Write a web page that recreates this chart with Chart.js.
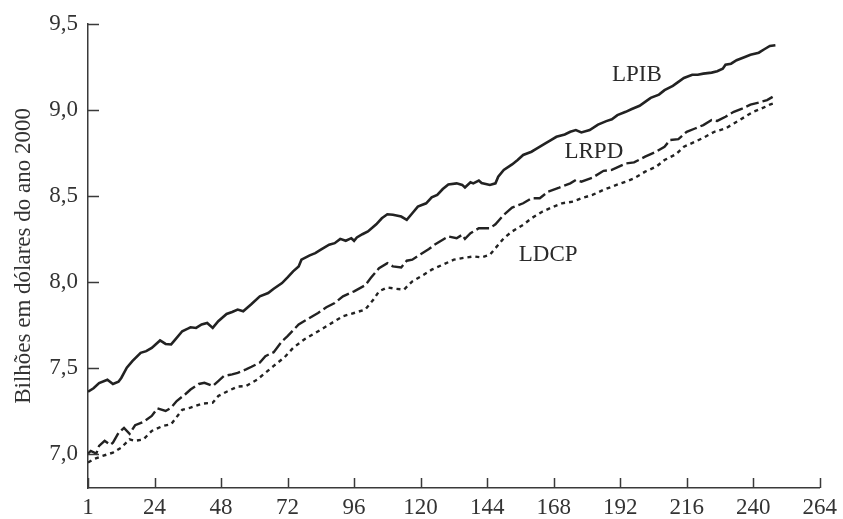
<!DOCTYPE html>
<html>
<head>
<meta charset="utf-8">
<script src="https://cdn.jsdelivr.net/npm/chart.js@4"></script>
<style>
  html, body { margin: 0; padding: 0; background: #fff; }
  #wrap { width: 843px; height: 519px; }
</style>
</head>
<body>
<div id="wrap"><canvas id="chart"></canvas></div>
<script>
// quarters (x) and log values
const lpibQ = [0, 2, 4, 7, 9, 11, 12, 14, 16, 19, 21, 23, 26, 28, 30, 31, 34, 36, 37, 39, 41, 43, 45, 47, 50, 52, 54, 56, 59, 62, 65, 67, 70, 72, 74, 76, 77, 80, 82, 84, 87, 89, 91, 93, 95, 96, 97, 99, 101, 104, 106, 108, 110, 113, 115, 117, 119, 122, 124, 126, 128, 130, 133, 135, 136, 138, 139, 141, 142, 145, 147, 148, 150, 153, 155, 157, 160, 162, 165, 167, 169, 172, 174, 176, 178, 181, 184, 187, 189, 191, 194, 196, 199, 201, 203, 206, 208, 211, 213, 215, 218, 220, 222, 225, 227, 229, 230, 232, 234, 237, 239, 242, 244, 246, 248]
const lpibV = [7.36, 7.38, 7.41, 7.43, 7.405, 7.418, 7.44, 7.5, 7.538, 7.586, 7.596, 7.615, 7.658, 7.638, 7.635, 7.654, 7.712, 7.727, 7.735, 7.731, 7.751, 7.76, 7.731, 7.77, 7.812, 7.824, 7.838, 7.828, 7.87, 7.915, 7.934, 7.959, 7.992, 8.025, 8.06, 8.089, 8.128, 8.153, 8.166, 8.186, 8.215, 8.224, 8.249, 8.238, 8.253, 8.238, 8.257, 8.276, 8.292, 8.334, 8.369, 8.392, 8.389, 8.379, 8.36, 8.398, 8.437, 8.456, 8.49, 8.505, 8.539, 8.566, 8.572, 8.563, 8.548, 8.578, 8.572, 8.588, 8.574, 8.563, 8.572, 8.611, 8.65, 8.682, 8.708, 8.737, 8.756, 8.775, 8.804, 8.824, 8.843, 8.856, 8.872, 8.882, 8.868, 8.882, 8.914, 8.934, 8.945, 8.969, 8.988, 9.003, 9.023, 9.046, 9.069, 9.088, 9.114, 9.139, 9.162, 9.185, 9.204, 9.204, 9.21, 9.216, 9.224, 9.239, 9.262, 9.268, 9.288, 9.307, 9.32, 9.332, 9.352, 9.371, 9.375]

const lrpdQ = [0, 1, 3, 4, 6, 8, 9, 11, 13, 15, 17, 20, 23, 25, 28, 30, 32, 35, 37, 40, 42, 45, 47, 49, 52, 54, 57, 59, 62, 64, 67, 70, 72, 76, 79, 83, 86, 89, 92, 96, 100, 102, 105, 108, 110, 113, 115, 117, 120, 123, 125, 128, 130, 133, 135, 136, 138, 141, 145, 147, 150, 153, 157, 160, 163, 166, 170, 174, 176, 178, 182, 186, 189, 194, 197, 201, 205, 208, 210, 213, 216, 219, 222, 225, 227, 230, 233, 236, 239, 242, 245, 247]
const lrpdV = [7.0, 7.016, 7.0, 7.045, 7.074, 7.051, 7.064, 7.12, 7.15, 7.115, 7.165, 7.185, 7.219, 7.263, 7.248, 7.267, 7.306, 7.344, 7.373, 7.405, 7.412, 7.393, 7.422, 7.451, 7.461, 7.47, 7.49, 7.505, 7.53, 7.567, 7.59, 7.654, 7.683, 7.751, 7.78, 7.818, 7.851, 7.876, 7.915, 7.944, 7.979, 8.021, 8.079, 8.108, 8.089, 8.083, 8.122, 8.128, 8.16, 8.19, 8.215, 8.244, 8.263, 8.253, 8.273, 8.249, 8.282, 8.311, 8.311, 8.334, 8.389, 8.431, 8.456, 8.485, 8.485, 8.524, 8.547, 8.572, 8.592, 8.582, 8.605, 8.645, 8.65, 8.688, 8.694, 8.727, 8.756, 8.785, 8.824, 8.829, 8.872, 8.891, 8.911, 8.94, 8.935, 8.959, 8.988, 9.007, 9.03, 9.042, 9.056, 9.075]

const ldcpQ = [0, 2, 5, 9, 12, 15, 17, 20, 23, 27, 30, 34, 37, 41, 45, 47, 50, 54, 57, 61, 64, 67, 71, 74, 78, 82, 85, 89, 92, 96, 100, 103, 105, 108, 111, 114, 117, 121, 124, 128, 132, 135, 139, 142, 145, 147, 150, 153, 157, 160, 164, 168, 171, 175, 178, 182, 186, 190, 194, 197, 201, 205, 208, 212, 215, 219, 222, 226, 230, 233, 237, 240, 243, 246, 248]
const ldcpV = [6.948, 6.967, 6.985, 7.006, 7.035, 7.083, 7.074, 7.083, 7.132, 7.161, 7.171, 7.255, 7.267, 7.29, 7.296, 7.335, 7.36, 7.39, 7.393, 7.43, 7.47, 7.51, 7.562, 7.615, 7.664, 7.702, 7.731, 7.77, 7.799, 7.818, 7.838, 7.896, 7.944, 7.967, 7.959, 7.954, 8.002, 8.039, 8.07, 8.099, 8.128, 8.137, 8.147, 8.141, 8.157, 8.195, 8.253, 8.292, 8.331, 8.369, 8.408, 8.437, 8.456, 8.466, 8.485, 8.505, 8.534, 8.559, 8.582, 8.601, 8.64, 8.669, 8.708, 8.74, 8.785, 8.814, 8.837, 8.872, 8.891, 8.92, 8.959, 8.988, 9.007, 9.03, 9.04]

const xTicks = [0, 24, 48, 72, 96, 120, 144, 168, 192, 216, 240, 264]
const yTicks = [7.0, 7.5, 8.0, 8.5, 9.0, 9.5]

// series names and where their labels sit (in data units)
const seriesNames = ["LPIB", "LRPD", "LDCP"]
const labelQ = [198, 182.5, 166]
const labelV = [9.2, 8.755, 8.155]

const ink = "#222", axisInk = "#3a3a3a"
const serif = "'Liberation Serif', 'DejaVu Serif', serif"
const fontSize = 23

const pts = (q, v) => q.map((x, i) => ({ x, y: v[i] }))

// names next to the lines, plus tick marks that point into the plot
const decorations = {
    id: "decorations",
    afterDatasetsDraw(chart) {
        const { ctx, chartArea, scales: { x, y } } = chart
        ctx.save()
        ctx.fillStyle = "#2a2a2a"
        ctx.font = fontSize + "px " + serif
        ctx.textAlign = "center"
        ctx.textBaseline = "middle"
        seriesNames.forEach((name, i) => {
            ctx.fillText(name, x.getPixelForValue(labelQ[i]), y.getPixelForValue(labelV[i]))
        })

        ctx.strokeStyle = axisInk
        ctx.lineWidth = 1.5
        ctx.beginPath()
        xTicks.forEach(v => {
            const px = Math.round(x.getPixelForValue(v)) + 0.5
            ctx.moveTo(px, chartArea.bottom)
            ctx.lineTo(px, chartArea.bottom - 10)
        })
        yTicks.forEach(v => {
            const py = Math.round(y.getPixelForValue(v)) + 0.5
            ctx.moveTo(chartArea.left, py)
            ctx.lineTo(chartArea.left + 11, py)
        })
        ctx.stroke()
        ctx.restore()
    }
}

const common = { pointRadius: 0, borderColor: ink, borderWidth: 2.4, tension: 0, fill: false, borderCapStyle: "butt" }

new Chart("chart", {
    type: "line",
    data: {
        datasets: [
            { ...common, label: "LPIB", data: pts(lpibQ, lpibV), borderWidth: 2.6 },
            { ...common, label: "LRPD", data: pts(lrpdQ, lrpdV), borderDash: [13, 4] },
            { ...common, label: "LDCP", data: pts(ldcpQ, ldcpV), borderDash: [4, 4] }
        ]
    },
    plugins: [decorations],
    options: {
        responsive: true,
        maintainAspectRatio: false,
        animation: false,
        layout: { padding: { left: 0, top: 6, right: 2, bottom: 0 } },
        plugins: { legend: { display: false }, tooltip: { enabled: false } },
        scales: {
            x: {
                type: "linear",
                min: 0,
                max: 264,
                afterBuildTicks: s => { s.ticks = xTicks.map(value => ({ value })) },
                afterFit: s => { s.height = 31 },
                ticks: {
                    color: "#333",
                    font: { family: serif, size: fontSize },
                    padding: 6,
                    maxRotation: 0,
                    callback: v => v === 0 ? "1" : String(v)
                },
                grid: { drawOnChartArea: false, drawTicks: false },
                border: { color: axisInk, width: 1.5 }
            },
            y: {
                min: 6.8,
                max: 9.5,
                afterBuildTicks: s => { s.ticks = yTicks.map(value => ({ value })) },
                afterFit: s => { s.width = 88 },
                ticks: {
                    color: "#333",
                    font: { family: serif, size: fontSize },
                    padding: 10,
                    callback: v => v.toFixed(1).replace(".", ",")
                },
                grid: { drawOnChartArea: false, drawTicks: false },
                border: { color: axisInk, width: 1.5 },
                title: {
                    display: true,
                    text: "Bilhões em dólares do ano 2000",
                    color: "#333",
                    font: { family: serif, size: fontSize },
                    padding: { top: 10, bottom: 0 }
                }
            }
        }
    }
})
</script>
</body>
</html>
